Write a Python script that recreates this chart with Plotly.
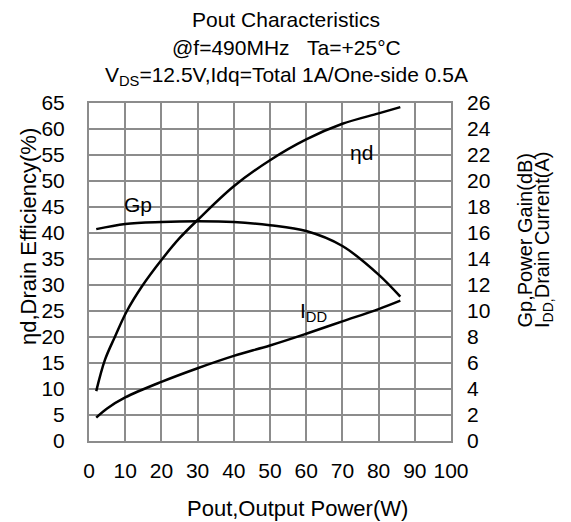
import plotly.graph_objects as go

# Data
eta_x = [2, 4.4, 7.2, 10.4, 14.6, 20, 25, 30, 40, 50, 60, 70, 80, 86]
eta_y = [9.6, 15.6, 20.1, 24.9, 29.7, 34.8, 39, 42.5, 49, 54, 58, 61, 63, 64.2]

gp_x = [2, 10, 20, 30, 40, 50, 60, 70, 80, 86]
gp_y = [16.3, 16.7, 16.85, 16.9, 16.85, 16.6, 16.15, 15.0, 12.8, 11.1]

idd_x = [2, 5, 10, 20, 30, 40, 50, 60, 70, 80, 86]
idd_y = [1.8, 2.5, 3.35, 4.55, 5.6, 6.55, 7.35, 8.25, 9.2, 10.15, 10.8]

x_ticks = [0, 10, 20, 30, 40, 50, 60, 70, 80, 90, 100]
left_ticks = list(range(0, 66, 5))
right_ticks = list(range(0, 27, 2))

FONT = "Arial, Liberation Sans, sans-serif"
GRID = "#8c8c8c"
TICK = 21

fig = go.Figure()
line = dict(color="black", width=2.5, shape="spline", smoothing=1.0)
fig.add_trace(go.Scatter(x=eta_x, y=eta_y, mode="lines", line=line, yaxis="y"))
fig.add_trace(go.Scatter(x=gp_x, y=gp_y, mode="lines", line=line, yaxis="y2"))
fig.add_trace(go.Scatter(x=idd_x, y=idd_y, mode="lines", line=line, yaxis="y2"))

fig.update_layout(
    width=571, height=522,
    margin=dict(l=89, r=120, t=103, b=81),
    paper_bgcolor="white", plot_bgcolor="white",
    showlegend=False,
    font=dict(family=FONT, color="black", size=TICK),
    xaxis=dict(range=[0, 100], tickvals=x_ticks, showgrid=True, gridcolor=GRID, gridwidth=1.5,
               showline=True, linecolor=GRID, linewidth=2, mirror=True, ticks="",
               zeroline=False, tickfont=dict(size=TICK), ticklabelstandoff=10),
    yaxis=dict(range=[0, 65], tickvals=left_ticks, showgrid=True, gridcolor=GRID, gridwidth=1.5,
               showline=True, linecolor=GRID, linewidth=2, mirror=True, ticks="",
               zeroline=False, tickfont=dict(size=TICK), ticklabelstandoff=18),
    yaxis2=dict(range=[0, 26], tickvals=right_ticks, overlaying="y", side="right",
                showgrid=False, zeroline=False, ticks="", tickfont=dict(size=TICK),
                ticklabelstandoff=15),
)

def px(xp, yp):
    return (xp - 89) / 362, (441 - yp) / 338

titles = [("Pout Characteristics", 20), ("@f=490MHz\u00a0\u00a0\u00a0Ta=+25\u00b0C", 48),
          ("V<sub>DS</sub>=12.5V,Idq=Total 1A/One-side 0.5A", 76)]
for t, yy in titles:
    xx, yyy = px(286, yy)
    fig.add_annotation(text=t, x=xx, y=yyy, xref="paper", yref="paper", showarrow=False,
                       font=dict(size=21), xanchor="center", yanchor="middle")

xx, yy = px(28, 237)
fig.add_annotation(text="\u03b7d,Drain Efficiency(%)", x=xx, y=yy, xref="paper", yref="paper",
                   showarrow=False, textangle=-90, font=dict(size=22),
                   xanchor="center", yanchor="middle")
xx, yy = px(524, 330)
fig.add_annotation(text="Gp,Power Gain(dB)", x=xx, y=yy,
                   xref="paper", yref="paper", showarrow=False, textangle=-90,
                   xanchor="center", yanchor="bottom", font=dict(size=20))
xx, yy = px(543, 330)
fig.add_annotation(text="I<sub>DD,</sub>Drain Current(A)", x=xx, y=yy,
                   xref="paper", yref="paper", showarrow=False, textangle=-90,
                   xanchor="center", yanchor="bottom", font=dict(size=20))
xx, yy = px(297, 508)
fig.add_annotation(text="Pout,Output Power(W)", x=xx, y=yy, xref="paper", yref="paper",
                   showarrow=False, font=dict(size=22), xanchor="center", yanchor="middle")

fig.add_annotation(text="Gp", x=13.5, y=45.4, xref="x", yref="y", showarrow=False, font=dict(size=21))
fig.add_annotation(text="\u03b7d", x=75.4, y=55.4, xref="x", yref="y", showarrow=False, font=dict(size=21))
fig.add_annotation(text="I<sub>DD</sub>", x=62, y=24.8, xref="x", yref="y", showarrow=False, font=dict(size=21))

fig.write_html("out.html")
